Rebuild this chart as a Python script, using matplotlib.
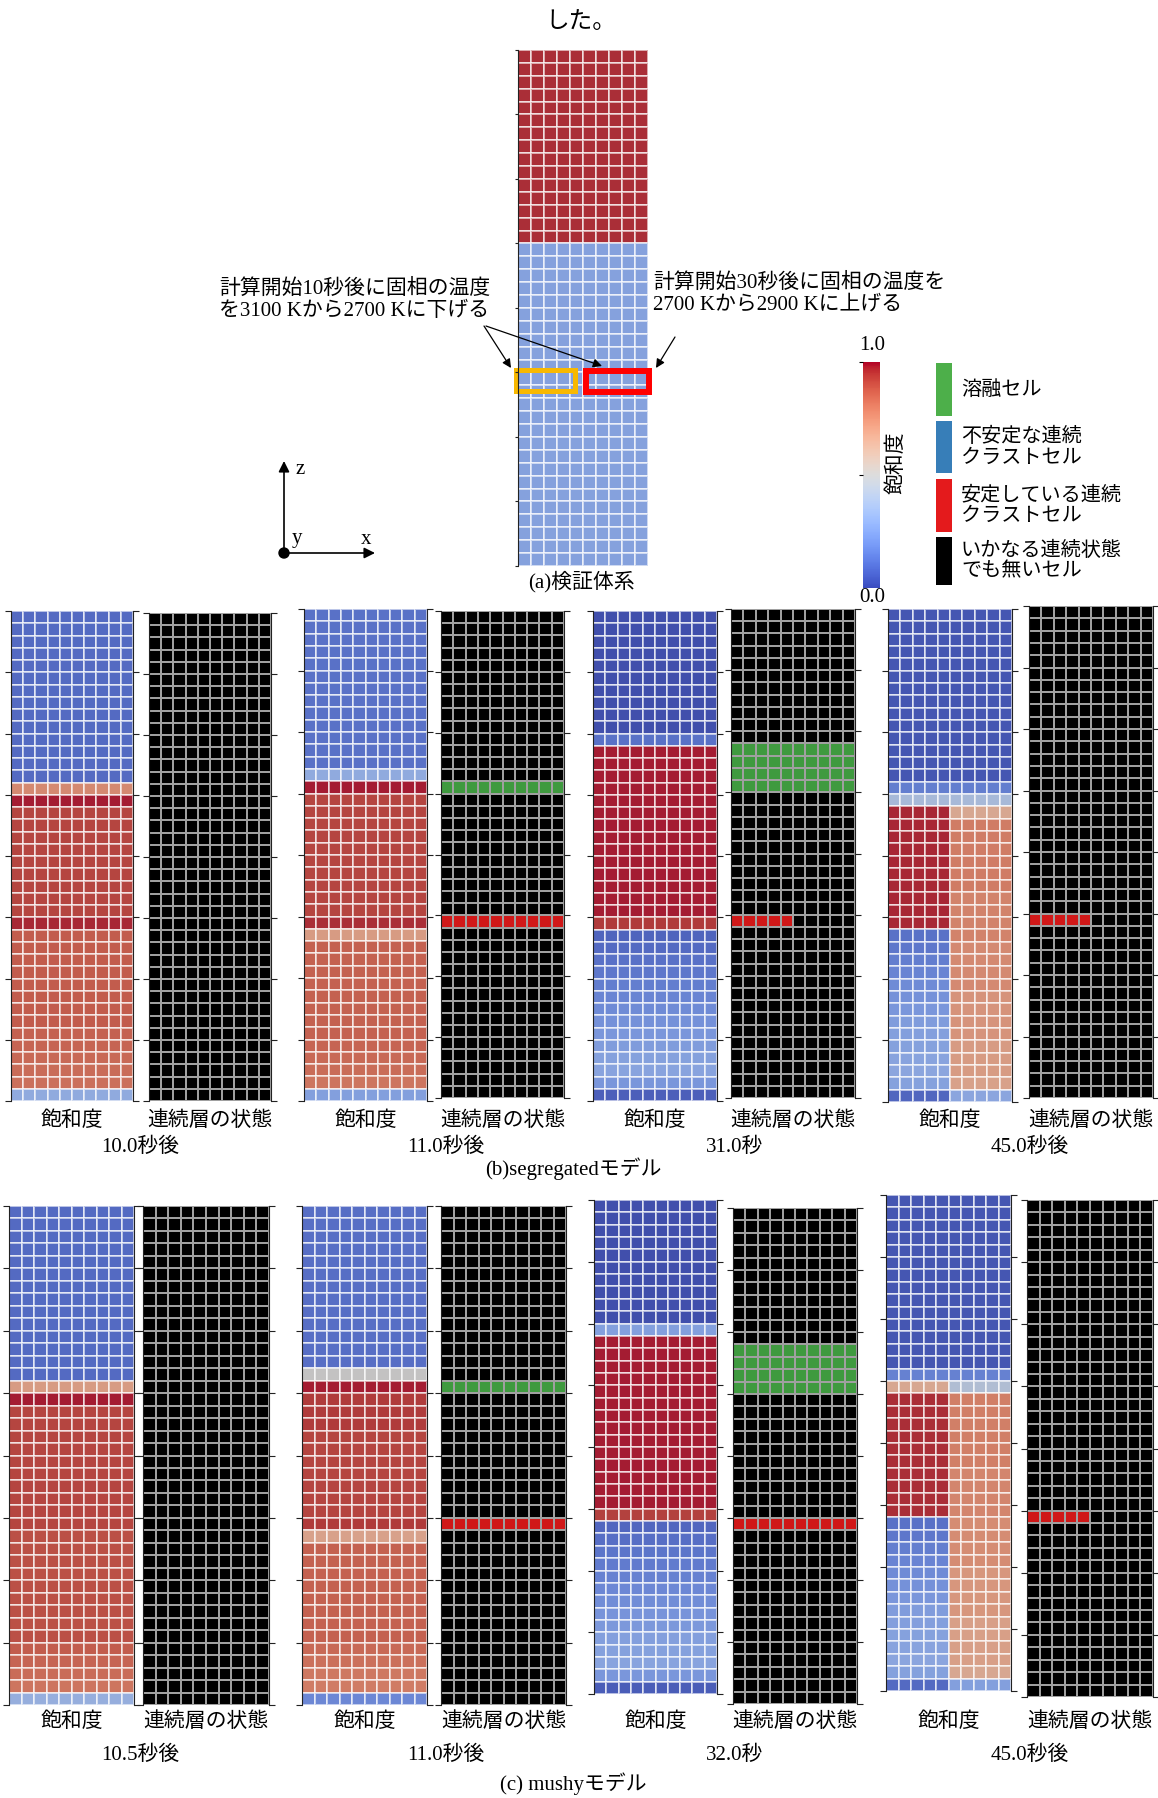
import numpy as np
import matplotlib
matplotlib.use("Agg")
import matplotlib.pyplot as plt
from matplotlib.colors import ListedColormap, BoundaryNorm, Normalize
from matplotlib.cm import ScalarMappable
from matplotlib.patches import Rectangle, Circle

plt.rcParams["font.family"] = ["Liberation Serif", "Noto Sans CJK JP"]

# ---------------------------------------------------------------- data
N_ROWS, N_COLS = 40, 10

# saturation profiles, top row first, as (number of rows, saturation)
SAT_A = [(15, 0.97), (25, 0.26)]

SAT_B_10 = [(14, 0.08), (1, 0.76), (1, 0.99), (9, 0.93), (1, 0.98), (8, 0.88),
            (1, 0.87), (1, 0.86), (1, 0.85), (1, 0.84), (1, 0.83), (1, 0.30)]
SAT_B_11 = [(13, 0.10), (1, 0.30), (1, 0.99), (10, 0.93), (1, 0.97), (1, 0.70),
            (8, 0.87), (1, 0.86), (1, 0.85), (1, 0.84), (1, 0.82), (1, 0.25)]
SAT_B_31 = [(10, 0.00), (1, 0.10), (14, 0.99), (1, 0.95), (1, 0.06), (1, 0.08),
            (1, 0.10), (1, 0.12), (1, 0.14), (1, 0.16), (1, 0.18), (1, 0.20),
            (1, 0.22), (1, 0.24), (1, 0.26), (1, 0.27), (1, 0.22), (1, 0.05)]
SAT_B_45_L = [(14, 0.02), (1, 0.14), (1, 0.38), (10, 0.98), (1, 0.10), (1, 0.12),
              (1, 0.14), (1, 0.16), (1, 0.18), (1, 0.20), (1, 0.22), (1, 0.24),
              (1, 0.25), (1, 0.26), (1, 0.27), (1, 0.28), (1, 0.26), (1, 0.07)]
SAT_B_45_R = [(14, 0.02), (1, 0.14), (1, 0.38), (1, 0.66), (6, 0.80), (4, 0.78),
              (4, 0.76), (4, 0.73), (3, 0.70), (1, 0.68), (1, 0.28)]

SAT_C_105 = [(14, 0.08), (1, 0.70), (1, 0.99), (10, 0.93), (9, 0.91), (1, 0.88),
             (1, 0.86), (1, 0.84), (1, 0.82), (1, 0.32)]
SAT_C_11 = [(13, 0.09), (1, 0.50), (1, 0.99), (3, 0.95), (7, 0.93), (1, 0.95),
            (1, 0.68), (8, 0.87), (1, 0.85), (1, 0.83), (1, 0.81), (1, 0.80), (1, 0.17)]
SAT_C_32 = [(10, 0.00), (1, 0.25), (14, 0.99), (1, 0.94), (1, 0.07), (1, 0.09),
            (1, 0.11), (1, 0.13), (1, 0.15), (1, 0.17), (1, 0.19), (1, 0.21),
            (1, 0.23), (1, 0.25), (1, 0.26), (1, 0.27), (1, 0.22), (1, 0.04)]
SAT_C_45_L = [(14, 0.02), (1, 0.15), (1, 0.66), (10, 0.97), (1, 0.10), (1, 0.12),
              (1, 0.14), (1, 0.16), (1, 0.18), (1, 0.20), (1, 0.22), (1, 0.24),
              (1, 0.25), (1, 0.26), (1, 0.27), (1, 0.28), (1, 0.26), (1, 0.08)]
SAT_C_45_R = [(14, 0.02), (1, 0.15), (1, 0.42), (6, 0.79), (4, 0.77), (4, 0.75),
              (4, 0.72), (4, 0.69), (1, 0.66), (1, 0.25)]

# continuous-layer state: (row, first col, end col, code)
# code 0 = none, 1 = melted, 2 = unstable crust, 3 = stable crust
STATE_B_10 = []
STATE_B_11 = [(14, 0, 10, 1), (25, 0, 10, 3)]
STATE_B_31 = [(11, 0, 10, 1), (12, 0, 10, 1), (13, 0, 10, 1), (14, 0, 10, 1), (25, 0, 5, 3)]
STATE_B_45 = [(25, 0, 5, 3)]
STATE_C_105 = []
STATE_C_11 = [(14, 0, 10, 1), (25, 0, 10, 3)]
STATE_C_32 = [(11, 0, 10, 1), (12, 0, 10, 1), (13, 0, 10, 1), (14, 0, 10, 1), (25, 0, 10, 3)]
STATE_C_45 = [(25, 0, 5, 3)]

TIMES_B = ["10.0秒後", "11.0秒後", "31.0秒", "45.0秒後"]
TIMES_C = ["10.5秒後", "11.0秒後", "32.0秒", "45.0秒後"]
SAT_B = [(SAT_B_10, SAT_B_10), (SAT_B_11, SAT_B_11), (SAT_B_31, SAT_B_31), (SAT_B_45_L, SAT_B_45_R)]
SAT_C = [(SAT_C_105, SAT_C_105), (SAT_C_11, SAT_C_11), (SAT_C_32, SAT_C_32), (SAT_C_45_L, SAT_C_45_R)]
STATE_B = [STATE_B_10, STATE_B_11, STATE_B_31, STATE_B_45]
STATE_C = [STATE_C_105, STATE_C_11, STATE_C_32, STATE_C_45]

LEGEND_LABELS = ["溶融セル", "不安定な連続\nクラストセル", "安定している連続\nクラストセル",
                 "いかなる連続状態\nでも無いセル"]
LEGEND_COLORS = ["#4daf4a", "#377eb8", "#e41a1c", "#000000"]
STATE_COLORS = ["#000000", "#3f9a3f", "#377eb8", "#d01818"]

# ---------------------------------------------------------------- layout
W, H = 1158, 1798
fig = plt.figure(figsize=(W / 100, H / 100), dpi=100)
FS = 15

B_SAT_RECTS = [(11, 611, 133, 1101), (304, 609, 427, 1101), (593, 611, 717, 1101), (888, 609, 1012, 1102)]
B_STATE_RECTS = [(149, 613, 271, 1101), (441, 611, 564, 1098), (731, 609, 855, 1098), (1029, 606, 1153, 1098)]
C_SAT_RECTS = [(9, 1206, 134, 1705), (302, 1206, 427, 1705), (594, 1200, 717, 1694), (886, 1195, 1011, 1691)]
C_STATE_RECTS = [(143, 1206, 269, 1705), (441, 1206, 566, 1705), (733, 1208, 857, 1704), (1027, 1200, 1153, 1697)]
B_TIME_X = [140, 446, 735, 1030]


def px_axes(rect, **kw):
    x0, y0, x1, y1 = rect
    return fig.add_axes([x0 / W, 1 - y1 / H, (x1 - x0) / W, (y1 - y0) / H], **kw)


def expand(runs):
    return np.concatenate([np.full(n, v, dtype=float) for n, v in runs])


def sat_field(left, right):
    grid = np.empty((N_ROWS, N_COLS))
    grid[:, :N_COLS // 2] = expand(left)[:, None]
    grid[:, N_COLS // 2:] = expand(right)[:, None]
    return grid


def state_field(entries):
    grid = np.zeros((N_ROWS, N_COLS), dtype=int)
    for row, c0, c1, code in entries:
        grid[row, c0:c1] = code
    return grid


# rendered cells are slightly shaded compared with the plain colour scale
_base = plt.get_cmap("coolwarm")(np.linspace(0, 1, 256))[:, :3]
CELL_CMAP = ListedColormap(_base * 0.8 + 0.07)
STATE_CMAP = ListedColormap(STATE_COLORS)
STATE_NORM = BoundaryNorm([-0.5, 0.5, 1.5, 2.5, 3.5], 4)


def style_axes(ax, sides=("left", "right"), tick_len=4):
    for s in ["top", "bottom", "left", "right"]:
        ax.spines[s].set_visible(s in sides)
        ax.spines[s].set_linewidth(0.8)
        ax.spines[s].set_color("#222222")
    ax.set_xticks([])
    ax.set_yticks(np.arange(0, N_ROWS + 1, 5))
    ax.tick_params(axis="y", left="left" in sides, right="right" in sides,
                   labelleft=False, labelright=False, direction="out",
                   length=tick_len, width=0.8, color="#222222")
    ax.set_xlim(0, N_COLS)
    ax.set_ylim(N_ROWS, 0)


def draw_sat(ax, grid):
    ax.pcolormesh(np.arange(N_COLS + 1), np.arange(N_ROWS + 1), grid, cmap=CELL_CMAP,
                  vmin=0, vmax=1, edgecolors=(1, 1, 1, 0.6), linewidth=1.3)
    style_axes(ax)


def draw_state(ax, grid):
    ax.pcolormesh(np.arange(N_COLS + 1), np.arange(N_ROWS + 1), grid, cmap=STATE_CMAP,
                  norm=STATE_NORM, edgecolors="#a0a0a0", linewidth=1.1)
    style_axes(ax)


# ---------------------------------------------------------------- (a) test system
ax_a = px_axes((518, 50, 648, 566))
draw_sat(ax_a, sat_field(SAT_A, SAT_A))
style_axes(ax_a, sides=("left",), tick_len=2)
ax_a.add_patch(Rectangle((-0.19, 24.77), 4.61, 1.63, fill=False, ec="#f8b800", lw=3.6, clip_on=False))
ax_a.add_patch(Rectangle((5.23, 24.88), 4.85, 1.62, fill=False, ec="#ff0000", lw=4.3, clip_on=False))

# ---------------------------------------------------------------- (b) and (c) snapshots
for sat_rects, state_rects, sats, states in [(B_SAT_RECTS, B_STATE_RECTS, SAT_B, STATE_B),
                                             (C_SAT_RECTS, C_STATE_RECTS, SAT_C, STATE_C)]:
    for rs, rt, (left, right), st in zip(sat_rects, state_rects, sats, states):
        draw_sat(px_axes(rs), sat_field(left, right))
        draw_state(px_axes(rt), state_field(st))

# ---------------------------------------------------------------- colour bar
cax = px_axes((863, 362, 880, 588))
cb = fig.colorbar(ScalarMappable(norm=Normalize(0, 1), cmap="coolwarm"), cax=cax)
cb.outline.set_visible(False)
cb.set_ticks([0.5, 1.0])
cax.yaxis.set_ticks_position("left")
cax.tick_params(axis="y", labelleft=False, labelright=False, length=3, width=0.8)

# ---------------------------------------------------------------- overlay for text and arrows
ov = fig.add_axes([0, 0, 1, 1], zorder=10)
ov.set_xlim(0, W)
ov.set_ylim(H, 0)
ov.axis("off")
ov.patch.set_alpha(0)

ov.text(581, 23, "した。", fontsize=17, ha="center", va="center")
ov.text(219, 300, "計算開始10秒後に固相の温度\nを3100 Kから2700 Kに下げる",
        fontsize=FS, ha="left", va="center", linespacing=1.2)
ov.text(653, 294, "計算開始30秒後に固相の温度を\n2700 Kから2900 Kに上げる",
        fontsize=FS, ha="left", va="center", linespacing=1.2)

arrow_kw = dict(arrowstyle="-|>", color="black", lw=0.9, mutation_scale=13,
                shrinkA=0, shrinkB=0)
ov.annotate("", xy=(511, 368), xytext=(484, 326), arrowprops=arrow_kw)
ov.annotate("", xy=(602, 366), xytext=(486, 326), arrowprops=arrow_kw)
ov.annotate("", xy=(656, 368), xytext=(675, 337), arrowprops=arrow_kw)

# coordinate system
axis_kw = dict(arrowstyle="-|>", color="black", lw=1.2, mutation_scale=16,
               shrinkA=0, shrinkB=0)
ov.annotate("", xy=(284, 461), xytext=(284, 553), arrowprops=axis_kw)
ov.annotate("", xy=(375, 553), xytext=(284, 553), arrowprops=axis_kw)
ov.add_patch(Circle((284, 553), 5, color="black"))
ov.text(296, 469, "z", fontsize=FS, ha="left", va="center")
ov.text(292, 539, "y", fontsize=FS, ha="left", va="center")
ov.text(366, 539, "x", fontsize=FS, ha="center", va="center")
ov.text(581, 582, "(a)検証体系", fontsize=FS, ha="center", va="center")

# colour bar texts
ov.text(872, 345, "1.0", fontsize=FS, ha="center", va="center")
ov.text(872, 597, "0.0", fontsize=FS, ha="center", va="center")
ov.text(897, 463, "飽和度", fontsize=FS, ha="center", va="center", rotation=90)

# legend of the continuous-layer state
LEG_BOXES = [(363, 416), (421, 473), (479, 532), (537, 585)]
for (y0, y1), color, label in zip(LEG_BOXES, LEGEND_COLORS, LEGEND_LABELS):
    ov.add_patch(Rectangle((936, y0), 16, y1 - y0, color=color, lw=0))
    ov.text(961, (y0 + y1) / 2 + 1, label, fontsize=14.5, ha="left", va="center",
            linespacing=1.1)

# panel captions
for sat_rects, state_rects, times, y_lab, y_time, caption, y_cap in [
        (B_SAT_RECTS, B_STATE_RECTS, TIMES_B, 1121, 1147, "(b)segregatedモデル", 1169),
        (C_SAT_RECTS, C_STATE_RECTS, TIMES_C, 1722, 1755, "(c) mushyモデル", 1784)]:
    for rs, rt, t, xt in zip(sat_rects, state_rects, times, B_TIME_X):
        ov.text((rs[0] + rs[2]) / 2, y_lab, "飽和度", fontsize=FS, ha="center", va="center")
        ov.text((rt[0] + rt[2]) / 2, y_lab, "連続層の状態", fontsize=FS, ha="center", va="center")
        ov.text(xt, y_time, t, fontsize=FS, ha="center", va="center")
    ov.text(573, y_cap, caption, fontsize=FS, ha="center", va="center")

fig.savefig("out.png", dpi=100)
